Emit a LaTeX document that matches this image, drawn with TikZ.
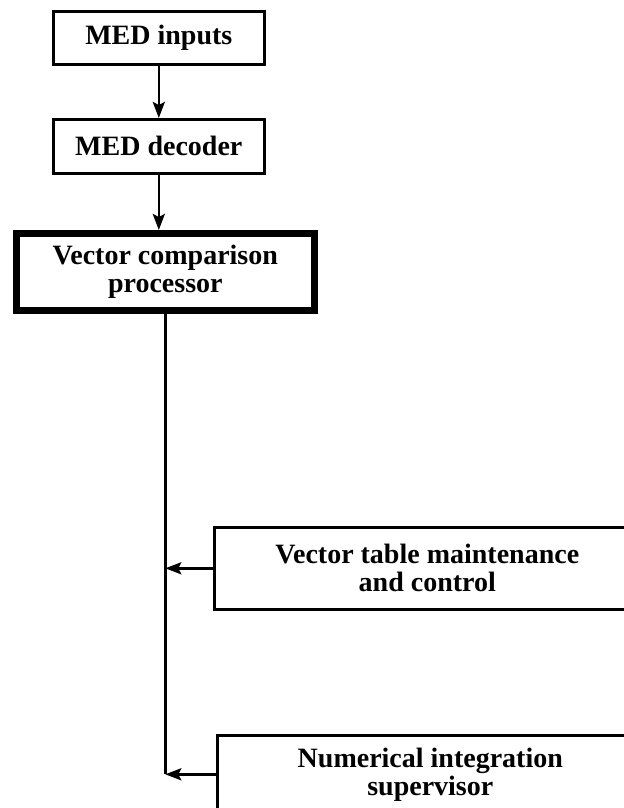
\documentclass[tikz,border=0pt]{standalone}
\usepackage{fontspec}
\setmainfont{Liberation Serif}
\usetikzlibrary{arrows.meta}
\begin{document}
\begin{tikzpicture}[x=0.5pt,y=-0.5pt,
every node/.style={font=\bfseries\fontsize{14}{14}\selectfont},
block/.style={%
draw,
line width=1.3pt,
anchor=north west,
align=center,
inner sep=0pt
},
main/.style={%
block,
line width=3.3pt
},
link/.style={%
line width=1.3pt,
-{Stealth[length=8pt,width=6pt,inset=1.5pt]}
}]
\useasboundingbox (0,0) rectangle (624,808);
\clip (0,0) rectangle (624,808);
\node[block,minimum width=105.5pt,minimum height=26.5pt](medin)at(52,10){MED inputs};
\node[block,minimum width=105.5pt,minimum height=27pt](meddec)at(52,118){MED decoder};
\node[main,minimum width=149pt,minimum height=38.5pt](vcp)at(13,230){Vector comparison\\processor};
\node[block,minimum width=213pt,minimum height=41pt](vtm)at(213,526){Vector table maintenance\\and control};
\node[block,minimum width=213pt,minimum height=39pt](nis)at(216,734){Numerical integration\\supervisor};
\draw[link](medin)--(meddec);
\draw[link](meddec.south)--(meddec.south|-vcp.north);
\draw[line width=1.3pt](vcp.south)--(vcp.south|-nis.west);
\draw[link](vtm.west)--(vcp.south|-vtm.west);
\draw[link](nis.west)--(vcp.south|-nis.west);
\end{tikzpicture}
\end{document}
